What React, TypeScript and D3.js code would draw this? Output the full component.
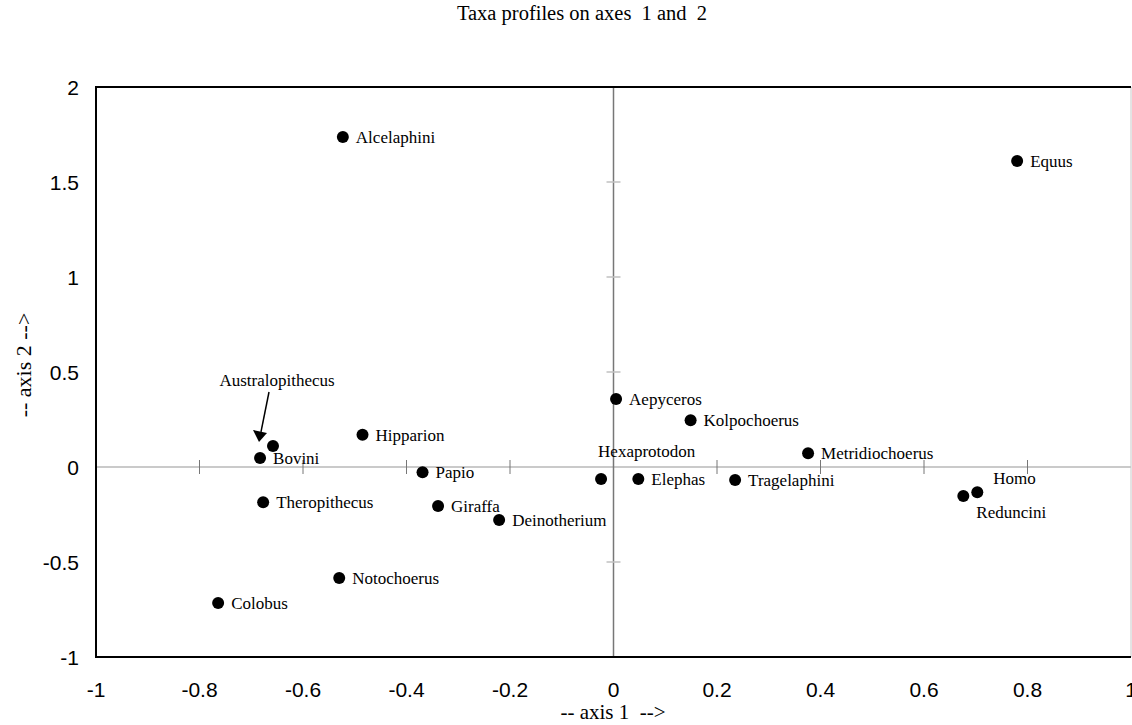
import React from "react";
import * as d3 from "d3";

const taxa = ["Alcelaphini","Equus","Australopithecus","Bovini","Hipparion","Papio","Theropithecus","Giraffa","Deinotherium","Notochoerus","Colobus","Aepyceros","Kolpochoerus","Hexaprotodon","Elephas","Tragelaphini","Metridiochoerus","Homo","Reduncini"];
const axis1 = [-0.523,0.780,-0.658,-0.683,-0.485,-0.369,-0.677,-0.339,-0.221,-0.530,-0.764,0.005,0.149,-0.024,0.048,0.235,0.376,0.703,0.676];
const axis2 = [1.737,1.61,0.111,0.047,0.17,-0.028,-0.186,-0.205,-0.279,-0.584,-0.716,0.358,0.246,-0.063,-0.063,-0.068,0.072,-0.133,-0.153];
const xTicks = [-1,-0.8,-0.6,-0.4,-0.2,0,0.2,0.4,0.6,0.8,1];
const yTicks = [-1,-0.5,0,0.5,1,1.5,2];
const title = "Taxa profiles on axes  1 and  2";

// label placement (layout only)
const labelPlace: Record<string, [number, number, string]> = {
  Hexaprotodon: [-3, -28, "start"],
  Homo: [16, -14, "start"],
  Reduncini: [13, 16, "start"],
};

export default function App() {
  const W = 1132, H = 725;
  const L = 96, R = 1131, T = 87, B = 657;
  const x = d3.scaleLinear().domain([-1, 1]).range([L, R]);
  const y = d3.scaleLinear().domain([-1, 2]).range([B, T]);
  const x0 = x(0), y0 = y(0);
  const serif = "'Liberation Serif','Times New Roman',serif";
  const sans = "'Liberation Sans',Arial,sans-serif";
  const aus = taxa.indexOf("Australopithecus");
  const ax = x(axis1[aus]) - 14, ay = y(axis2[aus]) - 4;
  return (
    <svg width={W} height={H} style={{ position: "absolute", left: 0, top: 0, background: "#fff" }}>
      <rect x={0} y={0} width={W} height={H} fill="#fff" />
      <text x={582} y={20} fontFamily={serif} fontSize={20.5} textAnchor="middle" style={{ whiteSpace: "pre" }}>{title}</text>
      {/* zero lines */}
      <line x1={L} x2={R} y1={y0} y2={y0} stroke="#b8b8b8" strokeWidth={1.5} />
      <line x1={x0} x2={x0} y1={T} y2={B} stroke="#777" strokeWidth={1.5} />
      {xTicks.filter(t => t !== 0 && t !== -1 && t !== 1).map(t => (
        <line key={"xt" + t} x1={x(t)} x2={x(t)} y1={y0 - 7} y2={y0 + 7} stroke="#777" strokeWidth={1} />
      ))}
      {yTicks.filter(t => t !== 0 && t !== -1 && t !== 2).map(t => (
        <line key={"yt" + t} x1={x0 - 7} x2={x0 + 7} y1={y(t)} y2={y(t)} stroke="#c0c0c0" strokeWidth={1.5} />
      ))}
      {/* frame */}
      <line x1={R} x2={R} y1={T} y2={B} stroke="#c8c8c8" strokeWidth={1} />
      <path d={`M${R},${T}H${L}V${B}H${R}`} fill="none" stroke="#000" strokeWidth={2} />
      {/* tick labels */}
      {xTicks.map(t => (
        <text key={"xl" + t} x={x(t)} y={697} fontFamily={sans} fontSize={21} textAnchor="middle">{String(t)}</text>
      ))}
      {yTicks.map(t => (
        <text key={"yl" + t} x={79} y={y(t) + 7.5} fontFamily={sans} fontSize={21} textAnchor="end">{String(t)}</text>
      ))}
      <text x={613} y={719} fontFamily={serif} fontSize={21} textAnchor="middle" style={{ whiteSpace: "pre" }}>{"-- axis 1  -->"}</text>
      <text transform={`translate(31,365) rotate(-90)`} fontFamily={serif} fontSize={22} textAnchor="middle" style={{ whiteSpace: "pre" }}>{"-- axis 2 -->"}</text>
      {/* points */}
      {taxa.map((n, i) => {
        const cx = x(axis1[i]), cy = y(axis2[i]);
        let lbl = null;
        if (n !== "Australopithecus") {
          const p = labelPlace[n] || [13, 0, "start"];
          lbl = <text x={cx + p[0]} y={cy + p[1] + 6} fontFamily={serif} fontSize={17} textAnchor={p[2]}>{n}</text>;
        }
        return (
          <g key={n}>
            <circle cx={cx} cy={cy} r={6} fill="#000" />
            {lbl}
          </g>
        );
      })}
      {/* Australopithecus annotation */}
      <text x={277} y={386} fontFamily={serif} fontSize={17} textAnchor="middle">Australopithecus</text>
      <line x1={269} y1={392} x2={ax + 2} y2={ay - 10} stroke="#000" strokeWidth={1.5} />
      <path d={`M${ax},${ay} L${ax - 6},${ay - 12} L${ax + 8},${ay - 9} Z`} fill="#000" />
    </svg>
  );
}
